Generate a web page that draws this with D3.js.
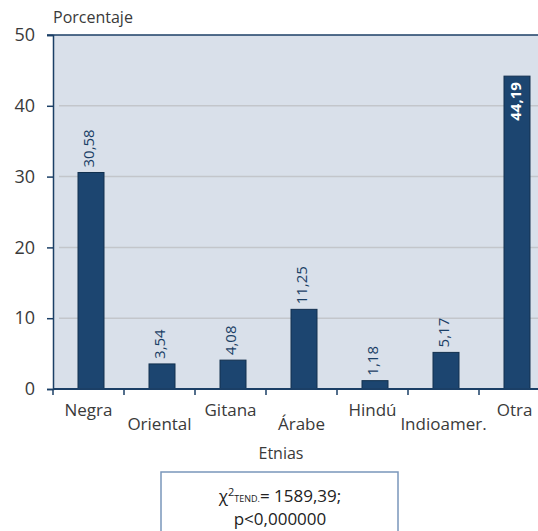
<!DOCTYPE html>
<html>
<head>
<meta charset="utf-8">
<script src="https://cdn.jsdelivr.net/npm/d3@7"></script>
<style>
  body { margin: 0; background: #fff; }
  svg text { font-family: 'Open Sans', 'Noto Sans', sans-serif; }
</style>
</head>
<body>
<div id="chart"></div>
<script>
const etnias = ['Negra', 'Oriental', 'Gitana', 'Árabe', 'Hindú', 'Indioamer.', 'Otra']
const porcentajes = [30.58, 3.54, 4.08, 11.25, 1.18, 5.17, 44.19]
const etiquetas = ['30,58', '3,54', '4,08', '11,25', '1,18', '5,17', '44,19']
const yTicks = [0, 10, 20, 30, 40, 50]
const chiLines = ['1589,39;', 'p<0,000000']

const W = 538, H = 531
const margin = { top: 35, left: 53, bottom: 142 }
const plotRight = 550
const plotBottom = H - margin.bottom
const dark = '#1b3f66'
const barFill = '#1c4570'

let svg = d3.select('#chart').append('svg')
  .attr('width', W)
  .attr('height', H)

const x = d3.scaleBand()
  .domain(etnias)
  .range([margin.left, plotRight])
  .padding(0)
const y = d3.scaleLinear()
  .domain([0, 50])
  .range([plotBottom, margin.top])

// fondo
svg.append('rect')
  .attr('x', margin.left)
  .attr('y', margin.top)
  .attr('width', plotRight - margin.left)
  .attr('height', plotBottom - margin.top)
  .style('fill', '#d9e0ea')

// rejilla
svg.append('g')
  .selectAll('line')
  .data(yTicks.filter(d => d > 0 && d < 50))
  .enter()
  .append('line')
  .attr('x1', margin.left + 6)
  .attr('x2', plotRight)
  .attr('y1', d => y(d))
  .attr('y2', d => y(d))
  .style('stroke', '#c3c6cb')
  .style('stroke-width', 1.5)

// borde superior
svg.append('line')
  .attr('x1', margin.left - 6)
  .attr('x2', plotRight)
  .attr('y1', y(50))
  .attr('y2', y(50))
  .style('stroke', dark)
  .style('stroke-width', 1.5)

// barras
const barOff = 25, barW = 26
svg.append('g')
  .selectAll('rect')
  .data(porcentajes)
  .enter()
  .append('rect')
  .attr('x', (d, i) => x(etnias[i]) + barOff)
  .attr('y', d => y(d))
  .attr('width', barW)
  .attr('height', d => y(0) - y(d))
  .style('fill', barFill)
  .style('stroke', '#12304f')
  .style('stroke-width', 1)

// etiquetas de valor
svg.append('g')
  .selectAll('text')
  .data(porcentajes)
  .enter()
  .append('text')
  .attr('transform', (d, i) => {
    let cx = x(etnias[i]) + barOff + barW / 2
    if (i === 6) return `translate(${cx + 4},${y(d) + 6}) rotate(-90)`
    return `translate(${cx + 3},${y(d) - 5}) rotate(-90)`
  })
  .attr('text-anchor', (d, i) => i === 6 ? 'end' : 'start')
  .style('font-size', '15px')
  .style('font-weight', (d, i) => i === 6 ? 'bold' : 'normal')
  .style('fill', (d, i) => i === 6 ? '#fff' : dark)
  .text((d, i) => etiquetas[i])

// eje Y
let yaxis = svg.append('g')
  .attr('transform', `translate(${margin.left},0)`)
  .call(d3.axisLeft(y).tickValues(yTicks).tickSize(6).tickPadding(12))
yaxis.select('.domain').style('stroke', dark).style('stroke-width', 1.5)
yaxis.selectAll('.tick line').style('stroke', dark).style('stroke-width', 1.5)
yaxis.selectAll('.tick text')
  .style('font-size', '18px')
  .style('fill', '#3a3a3a')
  .style('font-family', "'Open Sans', sans-serif")

// eje X
svg.append('line')
  .attr('x1', margin.left)
  .attr('x2', plotRight)
  .attr('y1', plotBottom)
  .attr('y2', plotBottom)
  .style('stroke', dark)
  .style('stroke-width', 2)
svg.append('g')
  .selectAll('line')
  .data(etnias)
  .enter()
  .append('line')
  .attr('x1', d => x(d))
  .attr('x2', d => x(d))
  .attr('y1', plotBottom)
  .attr('y2', plotBottom + 6)
  .style('stroke', dark)
  .style('stroke-width', 1.5)

svg.append('g')
  .selectAll('text')
  .data(etnias)
  .enter()
  .append('text')
  .attr('x', d => x(d) + x.bandwidth() / 2)
  .attr('y', (d, i) => plotBottom + (i % 2 === 0 ? 27 : 41))
  .attr('text-anchor', 'middle')
  .style('font-size', '17px')
  .style('fill', '#3a3a3a')
  .text(d => d)

// títulos
svg.append('text')
  .attr('x', margin.left)
  .attr('y', 23)
  .style('font-size', '16px')
  .style('fill', '#3a3a3a')
  .text('Porcentaje')
svg.append('text')
  .attr('x', 281)
  .attr('y', 459)
  .attr('text-anchor', 'middle')
  .style('font-size', '16px')
  .style('fill', '#3a3a3a')
  .text('Etnias')

// recuadro chi cuadrado
svg.append('rect')
  .attr('x', 161)
  .attr('y', 472)
  .attr('width', 237)
  .attr('height', 80)
  .style('fill', '#fff')
  .style('stroke', '#7a96bb')
  .style('stroke-width', 1.5)
let t1 = svg.append('text')
  .attr('x', 280)
  .attr('y', 502)
  .attr('text-anchor', 'middle')
  .style('font-size', '17px')
  .style('fill', '#222')
t1.append('tspan').text('χ')
t1.append('tspan').attr('dy', -6).style('font-size', '11px').text('2')
t1.append('tspan').attr('dy', 6).style('font-size', '9px').text('TEND.')
t1.append('tspan').text('= ' + chiLines[0])
svg.append('text')
  .attr('x', 280)
  .attr('y', 525)
  .attr('text-anchor', 'middle')
  .style('font-size', '17px')
  .style('fill', '#222')
  .text(chiLines[1])
</script>
</body>
</html>
